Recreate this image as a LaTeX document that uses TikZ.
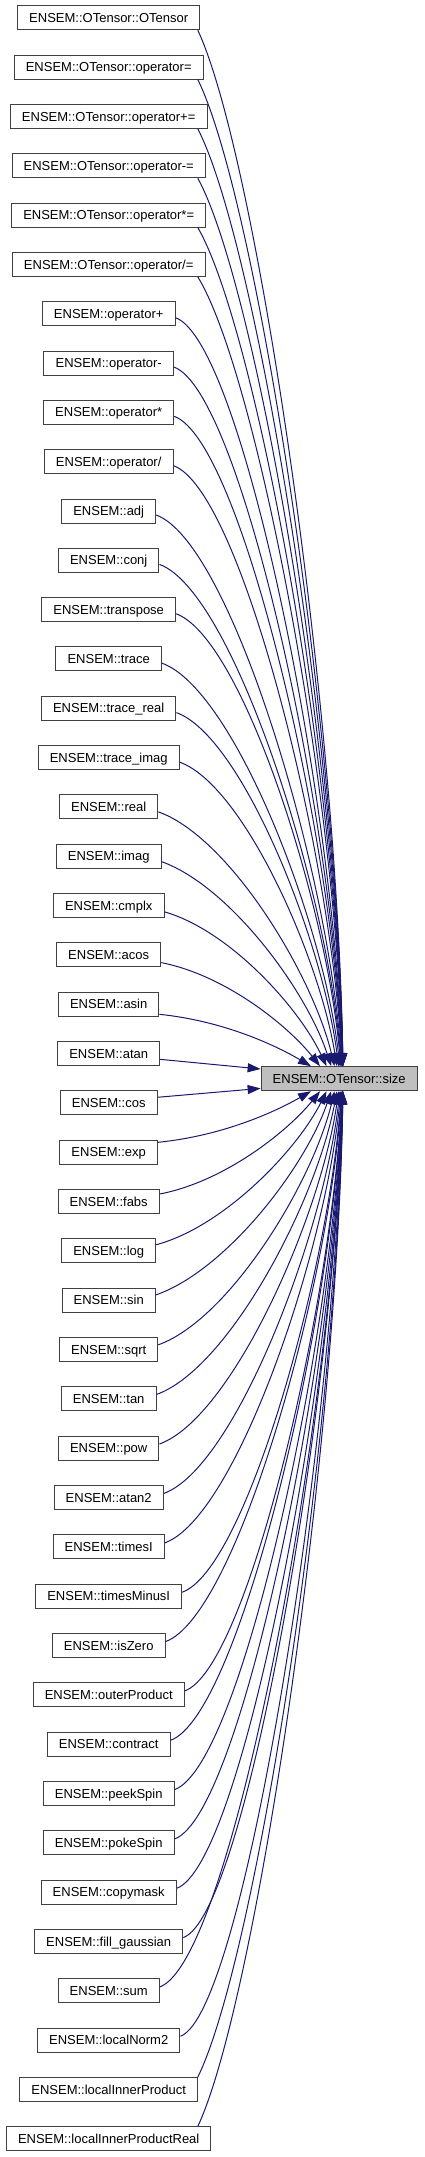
\documentclass[tikz,border=0pt]{standalone}
\usepackage{fontspec}
\setmainfont{Liberation Sans}
\usetikzlibrary{arrows.meta,calc}

\definecolor{edgeblue}{HTML}{191970}
\definecolor{framegray}{HTML}{404040}
\definecolor{selfgray}{HTML}{BFBFBF}

\tikzset{
	fn/.style={draw=framegray, line width=1pt, fill=white, minimum height=24pt,
		inner xsep=11.6pt, inner ysep=0pt, text height=10.65pt, text depth=1.35pt,
		font=\fontsize{13}{15}\selectfont},
	call/.style={draw=edgeblue, line width=1pt, -{Triangle[length=13pt,width=9pt]}},
}

\begin{document}
\begin{tikzpicture}[x=1pt,y=1pt]
	\useasboundingbox (0,0) rectangle (424,-2157);
	\node[fn,fill=selfgray] (size) at (339.2,-1078.7) {ENSEM::OTensor::size};
	\coordinate (tap) at (197.8,0);
	\foreach \nm/\lab/\side [count=\i from 0] in {
		otensor/{ENSEM::OTensor::OTensor}/s,
		opassign/{ENSEM::OTensor::operator=}/s,
		opaddassign/{ENSEM::OTensor::operator+=}/s,
		opsubassign/{ENSEM::OTensor::operator-=}/s,
		opmulassign/{ENSEM::OTensor::operator*=}/s,
		opdivassign/{ENSEM::OTensor::operator/=}/s,
		opadd/{ENSEM::operator+}/e,
		opsub/{ENSEM::operator-}/e,
		opmul/{ENSEM::operator*}/e,
		opdiv/{ENSEM::operator/}/e,
		adj/{ENSEM::adj}/e,
		conj/{ENSEM::conj}/e,
		transpose/{ENSEM::transpose}/e,
		trace/{ENSEM::trace}/e,
		tracereal/{ENSEM::trace\_real}/e,
		traceimag/{ENSEM::trace\_imag}/e,
		real/{ENSEM::real}/e,
		imag/{ENSEM::imag}/e,
		cmplx/{ENSEM::cmplx}/e,
		acos/{ENSEM::acos}/e,
		asin/{ENSEM::asin}/e,
		atan/{ENSEM::atan}/e,
		cos/{ENSEM::cos}/e,
		exp/{ENSEM::exp}/e,
		fabs/{ENSEM::fabs}/e,
		log/{ENSEM::log}/e,
		sin/{ENSEM::sin}/e,
		sqrt/{ENSEM::sqrt}/e,
		tan/{ENSEM::tan}/e,
		pow/{ENSEM::pow}/e,
		atantwo/{ENSEM::atan2}/e,
		timesi/{ENSEM::timesI}/e,
		timesminusi/{ENSEM::timesMinusI}/e,
		iszero/{ENSEM::isZero}/e,
		outerproduct/{ENSEM::outerProduct}/e,
		contract/{ENSEM::contract}/e,
		peekspin/{ENSEM::peekSpin}/e,
		pokespin/{ENSEM::pokeSpin}/e,
		copymask/{ENSEM::copymask}/e,
		fillgaussian/{ENSEM::fill\_gaussian}/e,
		sum/{ENSEM::sum}/e,
		localnormtwo/{ENSEM::localNorm2}/e,
		localinnerproduct/{ENSEM::localInnerProduct}/s,
		localinnerproductreal/{ENSEM::localInnerProductReal}/s}{
		\node[fn] (\nm) at (108.7,{-17.7-49.33*\i}) {\lab};
		% callers above the size node bend down, those below bend up
		\pgfmathsetmacro\dd{\i-21.5}
		\pgfmathsetmacro\kk{abs(\dd)-0.5}
		\pgfmathsetmacro\sg{\dd<0 ? 1 : -1}
		\pgfmathsetmacro\nsg{\dd<0 ? -1 : 1}
		\pgfmathsetmacro\off{\kk<0.5 ? 5.7 : 4+6*exp(-(\kk-1)/2)}
		\pgfmathsetmacro\dy{\dd<0 ? -\off : \off}
		\pgfmathsetmacro\xo{3.8-32*exp(-(\kk-1)/3)}
		\ifdim\sg pt>0pt \def\canc{south}\def\tanc{north}\else\def\canc{north}\def\tanc{south}\fi
		\if\side s
			\def\stp{1}\coordinate (\nm-out) at (\nm.\canc -| tap);
		\else
			\def\stp{0}\coordinate (\nm-out) at ([yshift=\dy]\nm.east);
		\fi
		\ifdim\kk pt<0.5pt
			\coordinate (\nm-in) at ([yshift={\sg*9.7}]size.west);
			\draw[call] (\nm-out) -- (\nm-in);
		\else
			\coordinate (\nm-in) at ([xshift=\xo]size.\tanc);
			\draw[call] let \p1=(\nm-out), \p2=(\nm-in), \n1={\x2-\x1}, \n2={abs(\y1-\y2)},
				\n3={\stp*0.12*\n2+(1-\stp)*min(0.144*\n1,0.12*\n2)} in
				(\nm-out) .. controls ($(\nm-out)+({0.4*\n1},{\nsg*\n3})$)
				and ($(\nm-in)+({-52.5*\n1/(\n2+150)},{\sg*(0.35*\n2+5)})$) .. (\nm-in);
		\fi
	}
\end{tikzpicture}
\end{document}
